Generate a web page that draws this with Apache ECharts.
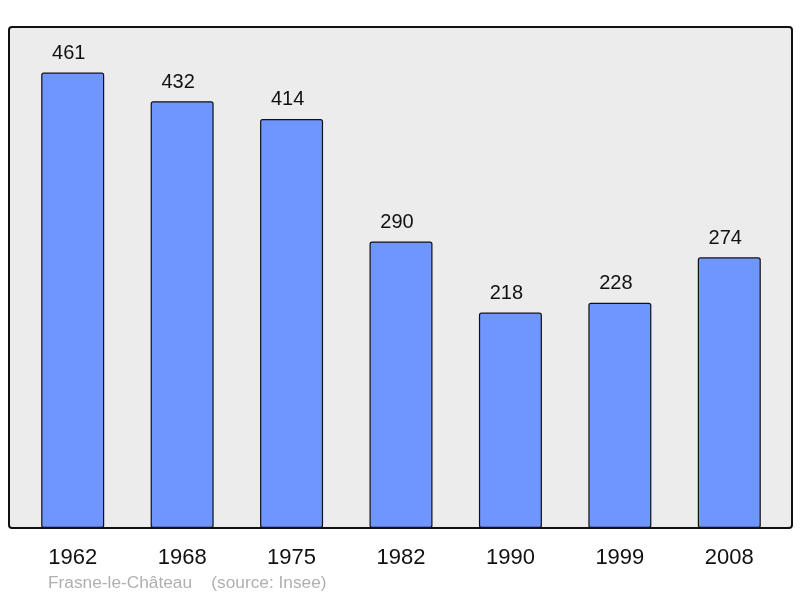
<!DOCTYPE html>
<html><head><meta charset="utf-8">
<script src="https://cdn.jsdelivr.net/npm/echarts@6/dist/echarts.min.js"></script>
<style>html,body{margin:0;padding:0;background:#fff}#c{width:800px;height:598px}</style>
</head><body><div id="c"></div>
<script>
const categories = ['1962','1968','1975','1982','1990','1999','2008'];
const population = [461,432,414,290,218,228,274];
const footerText = 'Frasne-le-Château    (source: Insee)';

const chart = echarts.init(document.getElementById('c'), null, {renderer:'canvas'});
chart.setOption({
  backgroundColor:'#ffffff',
  animation:false,
  graphic:[
    {type:'rect', z:-10, shape:{x:9,y:27,width:783,height:501,r:3},
     style:{fill:'#ececec', stroke:'#111', lineWidth:2}},
    {type:'text', left:48, top:575,
     style:{text:footerText, fill:'#b0b0b0', font:'17.3px "Liberation Sans", Arial, sans-serif'}}
  ],
  grid:{left:18, right:16, top:34, bottom:70},
  xAxis:{type:'category', data:categories,
    axisLine:{show:false}, axisTick:{show:false},
    axisLabel:{color:'#111', fontSize:22, fontFamily:'"Liberation Sans", Arial, sans-serif', margin:19}},
  yAxis:{type:'value', min:0, max:500, show:false, splitLine:{show:false}},
  series:[{type:'bar', data:population, barWidth:63,
    itemStyle:{color:'#6f96ff', borderColor:'#111', borderWidth:1.2, borderRadius:2},
    label:{show:true, position:'top', distance:9, offset:[-4,0], color:'#111', fontSize:20,
      fontFamily:'"Liberation Sans", Arial, sans-serif'}}]
});
</script></body></html>
